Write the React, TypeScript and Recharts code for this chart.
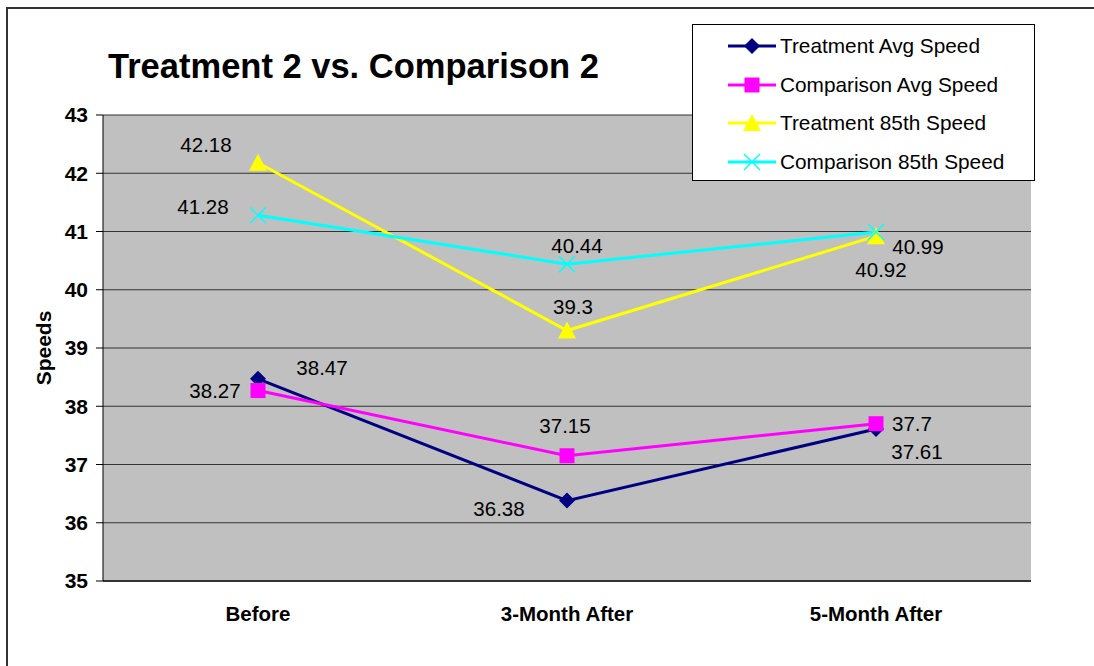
import {
  CartesianGrid,
  LabelList,
  Legend,
  Line,
  LineChart,
  XAxis,
  YAxis,
} from "recharts";

const CATEGORIES = ["Before", "3-Month After", "5-Month After"];
const TREATMENT_AVG = [38.47, 36.38, 37.61];
const COMPARISON_AVG = [38.27, 37.15, 37.7];
const TREATMENT_85 = [42.18, 39.3, 40.92];
const COMPARISON_85 = [41.28, 40.44, 40.99];
const Y_TICKS = [35, 36, 37, 38, 39, 40, 41, 42, 43];

const FONT = "'Liberation Sans', Arial, sans-serif";

type Shape = "diamond" | "square" | "triangle" | "x";

// label offsets (px) from each point, as placed in the original
const SERIES: {
  key: string;
  name: string;
  color: string;
  shape: Shape;
  offsets: [number, number][];
}[] = [
  { key: "tAvg", name: "Treatment Avg Speed", color: "#000080", shape: "diamond", offsets: [[64, -11], [-68, 8], [41, 23]] },
  { key: "cAvg", name: "Comparison Avg Speed", color: "#ff00ff", shape: "square", offsets: [[-43, 0], [-2, -30], [36, 0]] },
  { key: "t85", name: "Treatment 85th Speed", color: "#ffff00", shape: "triangle", offsets: [[-52, -18], [6, -24], [5, 33]] },
  { key: "c85", name: "Comparison 85th Speed", color: "#00ffff", shape: "x", offsets: [[-55, -9], [10, -19], [42, 14]] },
];

const rows = CATEGORIES.map((cat, i) => ({
  cat,
  tAvg: TREATMENT_AVG[i],
  cAvg: COMPARISON_AVG[i],
  t85: TREATMENT_85[i],
  c85: COMPARISON_85[i],
}));

function Marker({ shape, cx, cy, color }: { shape: Shape; cx: number; cy: number; color: string }) {
  if (shape === "diamond") {
    const r = 8;
    return <polygon points={`${cx},${cy - r} ${cx + r},${cy} ${cx},${cy + r} ${cx - r},${cy}`} fill={color} />;
  }
  if (shape === "square") {
    const s = 7.5;
    return <rect x={cx - s} y={cy - s} width={s * 2} height={s * 2} fill={color} />;
  }
  if (shape === "triangle") {
    return <polygon points={`${cx},${cy - 9} ${cx + 9},${cy + 8} ${cx - 9},${cy + 8}`} fill={color} />;
  }
  const r = 8;
  return (
    <g stroke={color} strokeWidth={1.5}>
      <line x1={cx - r} y1={cy - r} x2={cx + r} y2={cy + r} />
      <line x1={cx - r} y1={cy + r} x2={cx + r} y2={cy - r} />
    </g>
  );
}

const makeLabel = (offsets: [number, number][]) => (props: any) => {
  const x = props.x ?? props.viewBox?.x;
  const y = props.y ?? props.viewBox?.y;
  const [dx, dy] = offsets[props.index] ?? [0, 0];
  return (
    <text
      x={x + dx}
      y={y + dy}
      textAnchor="middle"
      dominantBaseline="central"
      fontSize={20.5}
      fontFamily={FONT}
      fill="#000"
    >
      {props.value}
    </text>
  );
};

function LegendBox(props: any) {
  const payload = props.payload ?? [];
  return (
    <div
      style={{
        width: 343,
        height: 157,
        border: "1px solid #000",
        background: "#fff",
        paddingTop: 2,
        boxSizing: "border-box",
        fontFamily: FONT,
        fontSize: 20.8,
        color: "#000",
      }}
    >
      {SERIES.map((s) => {
        const entry = payload.find((e: any) => e.dataKey === s.key);
        return (
          <div key={s.key} style={{ display: "flex", alignItems: "center", height: 38.5 }}>
            <svg width={48} height={22} style={{ marginLeft: 35, marginRight: 4 }}>
              <line x1={0} y1={11} x2={48} y2={11} stroke={s.color} strokeWidth={3} />
              <Marker shape={s.shape} cx={24} cy={11} color={s.color} />
            </svg>
            <span style={{ whiteSpace: "nowrap" }}>{entry?.value ?? s.name}</span>
          </div>
        );
      })}
    </div>
  );
}

export default function App() {
  return (
    <div
      style={{
        position: "absolute",
        left: 0,
        top: 0,
        width: 1094,
        height: 666,
        overflow: "hidden",
        background: "#fff",
        fontFamily: FONT,
      }}
    >
      <div
        style={{
          position: "absolute",
          left: 6,
          top: 7,
          width: 1200,
          height: 800,
          borderLeft: "2px solid #333",
          borderTop: "2px solid #333",
        }}
      />
      <div
        style={{
          position: "absolute",
          left: 108,
          top: 46,
          fontSize: 34.5,
          fontWeight: "bold",
          lineHeight: "40px",
          color: "#000",
          whiteSpace: "nowrap",
        }}
      >
        Treatment 2 vs. Comparison 2
      </div>
      <div style={{ position: "absolute", left: 0, top: 0 }}>
        <LineChart
          width={1094}
          height={666}
          data={rows}
          margin={{ top: 115, right: 63, bottom: 25, left: 43 }}
        >
          <CartesianGrid vertical={false} fill="#c0c0c0" stroke="#333" fillOpacity={1} />
          <XAxis
            dataKey="cat"
            height={60}
            padding={{ left: 155, right: 155 }}
            axisLine={{ stroke: "#333", strokeWidth: 2 }}
            tickLine={false}
            tickSize={0}
            tickMargin={25}
            tick={{ fontSize: 20.5, fontWeight: "bold", fill: "#000", fontFamily: FONT }}
          />
          <YAxis
            width={60}
            domain={[35, 43]}
            ticks={Y_TICKS}
            interval={0}
            axisLine={{ stroke: "#000" }}
            tickLine={{ stroke: "#000" }}
            tickSize={7}
            tickMargin={8}
            tick={{ fontSize: 21, fontWeight: "bold", fill: "#000", fontFamily: FONT }}
            label={{
              content: (p: any) => {
                const vb = p.viewBox ?? { x: 43, y: 115, height: 466 };
                const cx = vb.x;
                const cy = vb.y + vb.height / 2;
                return (
                  <text
                    x={cx}
                    y={cy}
                    transform={`rotate(-90, ${cx}, ${cy})`}
                    textAnchor="middle"
                    dominantBaseline="central"
                    fontSize={21}
                    fontWeight="bold"
                    fontFamily={FONT}
                    fill="#000"
                  >
                    Speeds
                  </text>
                );
              },
            }}
          />
          <YAxis
            yAxisId="r"
            orientation="right"
            width={0}
            domain={[35, 43]}
            tick={false}
            tickLine={false}
            axisLine={{ stroke: "#808080", strokeWidth: 2 }}
          />
          <Legend
            layout="vertical"
            align="center"
            verticalAlign="middle"
            wrapperStyle={{ left: 692, top: 24, width: 343 }}
            content={LegendBox}
          />
          {SERIES.map((s) => (
            <Line
              key={s.key}
              dataKey={s.key}
              name={s.name}
              type="linear"
              stroke={s.color}
              strokeWidth={3}
              dot={(p: any) => (
                <Marker key={`${s.key}-${p.index}`} shape={s.shape} cx={p.cx} cy={p.cy} color={s.color} />
              )}
              activeDot={false}
              isAnimationActive={false}
            >
              <LabelList dataKey={s.key} content={makeLabel(s.offsets)} />
            </Line>
          ))}
        </LineChart>
      </div>
    </div>
  );
}
